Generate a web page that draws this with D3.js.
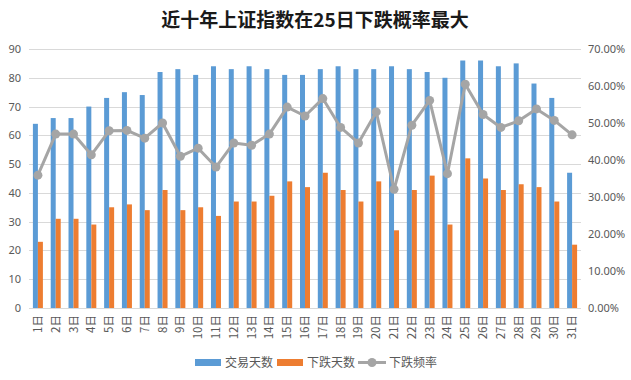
<!DOCTYPE html>
<html><head><meta charset="utf-8">
<script src="https://cdn.jsdelivr.net/npm/d3@7"></script>
<style>body{margin:0;background:#fff;}svg{display:block;font-family:"Noto Sans CJK SC","Microsoft YaHei",sans-serif;}</style>
</head><body><svg id="c" width="631" height="380"></svg>
<script>
const categories = ["1日","2日","3日","4日","5日","6日","7日","8日","9日","10日","11日","12日","13日","14日","15日","16日","17日","18日","19日","20日","21日","22日","23日","24日","25日","26日","27日","28日","29日","30日","31日"];
const tradeDays = [64,66,66,70,73,75,74,82,83,81,84,83,84,83,81,81,83,84,83,83,84,83,82,80,86,86,84,85,78,73,47];
const downDays = [23,31,31,29,35,36,34,41,34,35,32,37,37,39,44,42,47,41,37,44,27,41,46,29,52,45,41,43,42,37,22];
const downRate = [0.359,0.470,0.470,0.414,0.479,0.480,0.459,0.500,0.410,0.432,0.381,0.446,0.440,0.470,0.543,0.519,0.566,0.488,0.446,0.530,0.321,0.494,0.561,0.363,0.605,0.523,0.488,0.506,0.538,0.507,0.468];
const leftTicks = [0,10,20,30,40,50,60,70,80,90];
const rightTicks = [0,0.1,0.2,0.3,0.4,0.5,0.6,0.7];
const seriesNames = ["交易天数","下跌天数","下跌频率"];
const colors = ["#5b9bd5","#ed7d31","#a5a5a5"];

const svg = d3.select("#c");
const x0 = 29, x1 = 581, yTop = 49, yBot = 308;
const x = d3.scaleBand().domain(categories).range([x0, x1]);
const yL = d3.scaleLinear().domain([0,90]).range([yBot, yTop]);
const yR = d3.scaleLinear().domain([0,0.7]).range([yBot, yTop]);

svg.append("text").attr("x", 315).attr("y", 27).attr("text-anchor","middle")
  .attr("font-size", 19).attr("font-weight","bold").attr("fill","#1a1a1a")
  .text("近十年上证指数在25日下跌概率最大");

// gridlines
svg.append("g").selectAll("line").data(leftTicks).join("line")
  .attr("x1", x0).attr("x2", x1).attr("y1", d=>Math.round(yL(d))+0.5).attr("y2", d=>Math.round(yL(d))+0.5)
  .attr("stroke", "#d9d9d9").attr("stroke-width",1);

// left axis
const gl = svg.append("g").attr("transform", `translate(${x0},0)`)
  .call(d3.axisLeft(yL).tickValues(leftTicks).tickSize(0).tickPadding(8));
gl.select(".domain").remove();
gl.selectAll("text").attr("font-size", 11).attr("fill","#595959").style("font-family","'Noto Sans',sans-serif");

// right axis
const gr = svg.append("g").attr("transform", `translate(${x1},0)`)
  .call(d3.axisRight(yR).tickValues(rightTicks).tickSize(0).tickPadding(7).tickFormat(d=>(d*100).toFixed(2)+"%"));
gr.select(".domain").remove();
gr.selectAll("text").attr("font-size", 11).attr("fill","#595959").style("font-family","'Noto Sans',sans-serif");

// bars
const bw = 5;
svg.append("g").selectAll("rect").data(tradeDays).join("rect")
  .attr("x", (d,i)=>x(categories[i]) + x.bandwidth()/2 - bw)
  .attr("width", bw).attr("y", d=>yL(d)).attr("height", d=>yBot - yL(d)).attr("fill", colors[0]);
svg.append("g").selectAll("rect").data(downDays).join("rect")
  .attr("x", (d,i)=>x(categories[i]) + x.bandwidth()/2)
  .attr("width", bw).attr("y", d=>yL(d)).attr("height", d=>yBot - yL(d)).attr("fill", colors[1]);

// baseline
svg.append("line").attr("x1", x0).attr("x2", x1).attr("y1", yBot+0.5).attr("y2", yBot+0.5).attr("stroke","#d9d9d9");

// line
const line = d3.line().x((d,i)=>x(categories[i]) + x.bandwidth()/2).y(d=>yR(d));
svg.append("path").datum(downRate).attr("d", line).attr("fill","none")
  .attr("stroke", colors[2]).attr("stroke-width", 3).attr("stroke-linejoin","round");
svg.append("g").selectAll("circle").data(downRate).join("circle")
  .attr("cx", (d,i)=>x(categories[i]) + x.bandwidth()/2).attr("cy", d=>yR(d)).attr("r", 4.5).attr("fill", colors[2]);

// x labels
svg.append("g").selectAll("text").data(categories).join("text")
  .attr("transform", d=>`translate(${x(d)+x.bandwidth()/2+4},315) rotate(-90)`)
  .attr("text-anchor","end").attr("font-size", 11.5).attr("fill","#595959").text(d=>d);

// legend
const lg = svg.append("g").attr("font-size", 12).attr("fill","#595959");
lg.append("rect").attr("x",195).attr("y",359).attr("width",26).attr("height",7).attr("fill",colors[0]);
lg.append("text").attr("x",225).attr("y",367).text(seriesNames[0]);
lg.append("rect").attr("x",277).attr("y",359).attr("width",26).attr("height",7).attr("fill",colors[1]);
lg.append("text").attr("x",307).attr("y",367).text(seriesNames[1]);
lg.append("line").attr("x1",358).attr("x2",386).attr("y1",362.5).attr("y2",362.5).attr("stroke",colors[2]).attr("stroke-width",3);
lg.append("circle").attr("cx",372).attr("cy",362.5).attr("r",4.5).attr("fill",colors[2]);
lg.append("text").attr("x",389).attr("y",367).text(seriesNames[2]);
</script></body></html>
